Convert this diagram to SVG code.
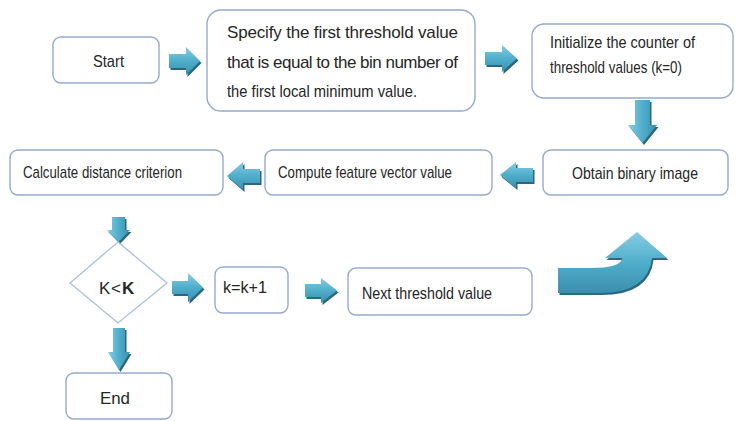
<svg xmlns="http://www.w3.org/2000/svg" width="738" height="421" viewBox="0 0 738 421">
<defs>
<linearGradient id="ag" x1="0" y1="0" x2="0" y2="1">
<stop offset="0" stop-color="#86cde2"/>
<stop offset="0.5" stop-color="#4faecb"/>
<stop offset="1" stop-color="#3a8fae"/>
</linearGradient>
<linearGradient id="agv" x1="0" y1="0" x2="1" y2="0">
<stop offset="0" stop-color="#86cde2"/>
<stop offset="0.5" stop-color="#4faecb"/>
<stop offset="1" stop-color="#3a8fae"/>
</linearGradient>
<style>
.box{fill:#ffffff;stroke:#97aacb;stroke-width:1.4}
.t{font-family:"Liberation Sans",Arial,sans-serif;font-size:17px;fill:#262626}
.sh{fill:#2a6880}
.ar{fill:url(#ag)}
.av{fill:url(#agv)}
</style>
</defs>
<rect width="738" height="421" fill="#ffffff"/>
<g id="connectors">
<g transform="translate(1.5,2)">
<path class="sh" d="M169,54 H186 V47 L200,61 L186,75 V68 H169 Z"/>
<path class="sh" d="M485,52 H502 V45 L517,58.5 L502,72 V65 H485 Z"/>
<path class="sh" d="M635,100 H650 V125 H657 L642.5,143 L628,125 H635 Z"/>
<path class="sh" d="M533,168 H516 V162 L500,175 L516,188 V182 H533 Z"/>
<path class="sh" d="M260,169 H243 V162 L227,176 L243,190 V183 H260 Z"/>
<path class="sh" d="M112,217 H125 V230 H130 L118.5,242 L107,230 H112 Z"/>
<path class="sh" d="M172,281 H188 V273 L203,287.5 L188,302 V294 H172 Z"/>
<path class="sh" d="M305,284 H321 V278 L337,290.5 L321,303 V297 H305 Z"/>
<path class="sh" d="M113,328 H125 V352 H130 L119,370 L108,352 H113 Z"/>
<path class="sh" d="M558,268 L590,268 Q622,268 622,258 L605,258 L637,232 L667,258 L652,258 Q648,293 600,293 L558,293 Z"/>
</g>
<path class="ar" d="M169,54 H186 V47 L200,61 L186,75 V68 H169 Z"/>
<path class="ar" d="M485,52 H502 V45 L517,58.5 L502,72 V65 H485 Z"/>
<path class="av" d="M635,100 H650 V125 H657 L642.5,143 L628,125 H635 Z"/>
<path class="ar" d="M533,168 H516 V162 L500,175 L516,188 V182 H533 Z"/>
<path class="ar" d="M260,169 H243 V162 L227,176 L243,190 V183 H260 Z"/>
<path class="av" d="M112,217 H125 V230 H130 L118.5,242 L107,230 H112 Z"/>
<path class="ar" d="M172,281 H188 V273 L203,287.5 L188,302 V294 H172 Z"/>
<path class="ar" d="M305,284 H321 V278 L337,290.5 L321,303 V297 H305 Z"/>
<path class="av" d="M113,328 H125 V352 H130 L119,370 L108,352 H113 Z"/>
<path class="ar" d="M558,268 L590,268 Q622,268 622,258 L605,258 L637,232 L667,258 L652,258 Q648,293 600,293 L558,293 Z"/>
</g>
<g id="start">
<rect class="box" x="53" y="37" width="106" height="46" rx="8"/>
<text class="t" x="93" y="67" textLength="31" lengthAdjust="spacingAndGlyphs">Start</text>
</g>
<g id="specify">
<rect class="box" x="207" y="10" width="268" height="101" rx="14"/>
<text class="t" x="227" y="38" textLength="231" lengthAdjust="spacing">Specify  the  first  threshold  value</text>
<text class="t" x="227" y="68" textLength="231" lengthAdjust="spacing">that is equal to the bin number of</text>
<text class="t" x="227" y="97" textLength="190" lengthAdjust="spacingAndGlyphs">the first local minimum value.</text>
</g>
<g id="initialize">
<rect class="box" x="532" y="24" width="201" height="74" rx="12"/>
<text class="t" x="550" y="48" textLength="145" lengthAdjust="spacingAndGlyphs">Initialize the counter of</text>
<text class="t" x="550" y="73" textLength="132" lengthAdjust="spacingAndGlyphs">threshold values (k=0)</text>
</g>
<g id="obtain">
<rect class="box" x="543" y="150" width="185" height="45" rx="8"/>
<text class="t" x="572" y="179" textLength="126" lengthAdjust="spacingAndGlyphs">Obtain binary image</text>
</g>
<g id="compute">
<rect class="box" x="265" y="150" width="227" height="45" rx="8"/>
<text class="t" x="278" y="178" textLength="174" lengthAdjust="spacingAndGlyphs">Compute feature vector value</text>
</g>
<g id="calculate">
<rect class="box" x="10" y="150" width="213" height="45" rx="8"/>
<text class="t" x="23" y="178" textLength="159" lengthAdjust="spacingAndGlyphs">Calculate distance criterion</text>
</g>
<g id="decision">
<polygon points="118,242 167,283 118,323 70,283" fill="#ffffff" stroke="#a9c0dc" stroke-width="1.3"/>
<text class="t" x="99" y="294" font-size="15px">K</text>
<text class="t" x="111" y="294" font-size="14px">&lt;</text>
<text class="t" x="122" y="294" font-weight="bold" font-size="19px">K</text>
</g>
<g id="increment">
<rect class="box" x="215" y="267" width="73" height="46" rx="8"/>
<text class="t" x="223" y="293" textLength="44" lengthAdjust="spacingAndGlyphs">k=k+1</text>
</g>
<g id="next">
<rect class="box" x="348" y="268" width="184" height="47" rx="8"/>
<text class="t" x="362" y="299" textLength="130" lengthAdjust="spacingAndGlyphs">Next threshold value</text>
</g>
<g id="end">
<rect class="box" x="66" y="373" width="106" height="46" rx="8"/>
<text class="t" x="100" y="404" textLength="30" lengthAdjust="spacingAndGlyphs">End</text>
</g>
</svg>
